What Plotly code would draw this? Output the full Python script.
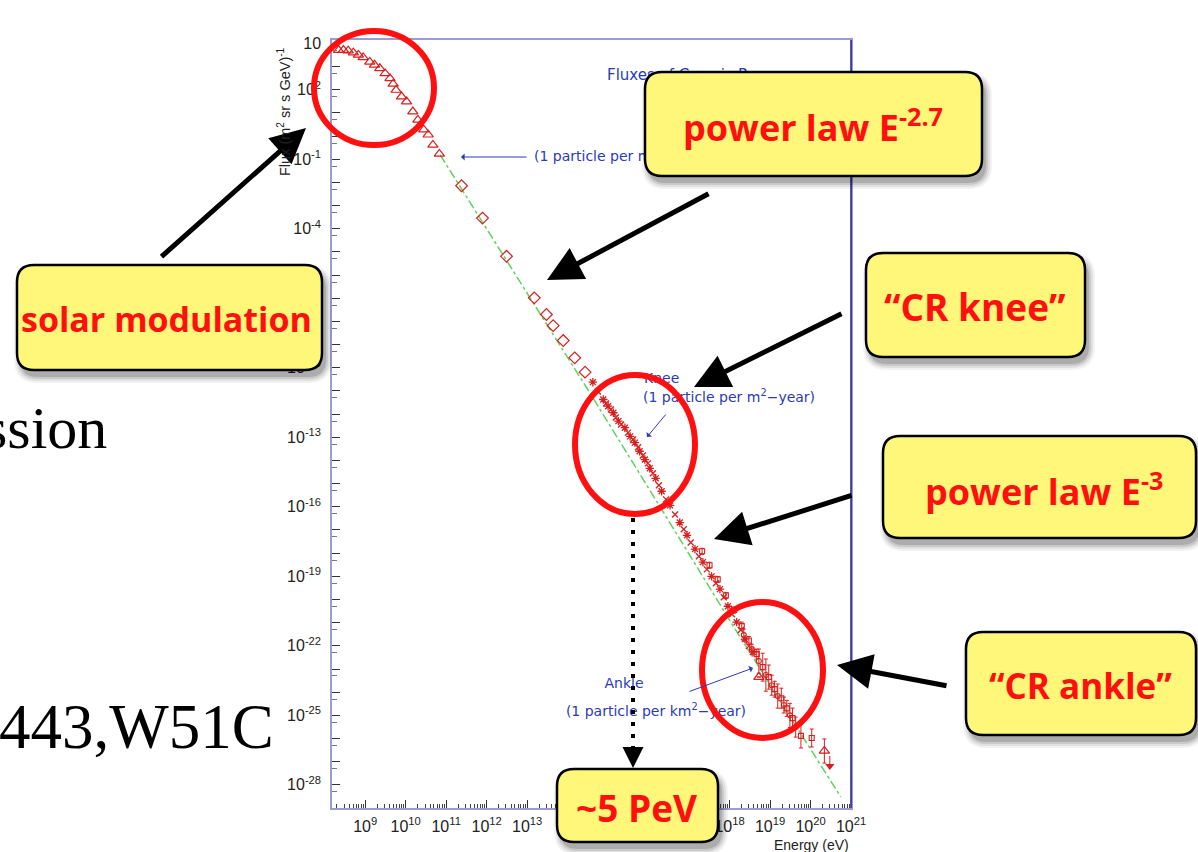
import plotly.graph_objects as go

# ---------------- data ----------------
# direct measurements (open triangles)
e_direct = [2.2e8, 2.9e8, 3.8e8, 5.1e8, 6.8e8, 8.9e8, 1.3e9, 1.7e9, 2.3e9, 3.1e9, 4.1e9,
            4.9e9, 5.8e9, 7.9e9, 1.05e10, 1.5e10, 2.0e10, 2.8e10, 3.6e10, 4.7e10, 6.8e10]
f_direct = [5.2e3, 5.2e3, 4.9e3, 4.0e3, 3.2e3, 2.5e3, 1.6e3, 1.2e3, 850, 510, 310,
            180, 98, 51, 31, 11.5, 5.0, 1.9, 1.15, 0.42, 0.17]

# balloon / satellite (open diamonds)
e_balloon = [2.4e11, 7.9e11, 3.1e12, 1.5e13, 3.0e13, 4.4e13, 7.8e13, 1.5e14, 2.7e14]
f_balloon = [7.2e-3, 2.9e-4, 6.5e-6, 1.05e-7, 2.0e-8, 6.6e-9, 1.5e-9, 2.7e-10, 6.5e-11]

# air-shower arrays around the knee (asterisks)
e_knee = [4.2e14, 7.6e14, 1.0e15, 1.35e15, 1.8e15, 2.6e15, 3.5e15, 4.6e15, 6.0e15, 8.1e15,
          1.07e16, 1.5e16, 2.1e16, 3.4e16, 5.9e16, 8.9e16, 1.4e17, 2.2e17, 3.6e17, 5.8e17,
          9.1e17, 1.5e18, 2.4e18, 3.8e18]
f_knee = [2.4e-11, 4.3e-12, 2.2e-12, 1.15e-12, 5.0e-13, 2.6e-13, 1.1e-13, 5.9e-14, 2.5e-14, 1.1e-14,
          4.6e-15, 1.7e-15, 4.7e-16, 1.15e-16, 2.1e-17, 5.9e-18, 1.5e-18, 4.1e-19, 1.0e-19, 2.8e-20,
          5.1e-21, 1.05e-21, 1.95e-22, 5.4e-23]

# a second air-shower data set around the knee (crosses)
e_knee2 = [5.6e14, 8.9e14, 1.17e15, 1.55e15, 2.1e15, 3.1e15, 4.1e15, 5.5e15, 7.2e15, 9.6e15,
           1.28e16, 1.8e16, 2.7e16, 4.5e16, 7.4e16, 1.1e17, 1.75e17, 2.75e17, 4.6e17, 7.2e17,
           1.15e18, 1.9e18, 3.0e18]
f_knee2 = [9.5e-12, 2.9e-12, 1.6e-12, 7.2e-13, 3.6e-13, 1.6e-13, 8.1e-14, 3.7e-14, 1.65e-14, 7.5e-15,
           2.8e-15, 8.5e-16, 2.1e-16, 4.7e-17, 1.07e-17, 2.9e-18, 7.4e-19, 2.0e-19, 5.0e-20, 1.25e-20,
           2.3e-21, 4.8e-22, 9.7e-23]

# highest energies with error bars (open squares)
e_uhe = [2.1e17, 3.2e17, 5.1e17, 8.1e17, 1.3e18, 2.0e18, 3.0e18, 4.7e18, 6.6e18, 9.3e18,
         1.3e19, 1.9e19, 2.6e19, 3.6e19, 5.8e19, 1.07e20]
f_uhe = [1.2e-18, 3.0e-19, 7.4e-20, 1.5e-20, 3.5e-21, 7.1e-22, 1.7e-22, 4.4e-23, 1.2e-23, 4.5e-24,
         1.35e-24, 5.5e-25, 2.0e-25, 7.6e-26, 1.3e-26, 1.05e-26]
uhe_err_up = [0.35, 0.35, 0.35, 0.35, 0.35, 0.49, 0.49, 0.64, 3.0, 2.3, 1.2, 1.7, 1.2, 1.7, 2.3, 1.44]
uhe_err_dn = [0.26, 0.26, 0.26, 0.26, 0.26, 0.33, 0.33, 0.39, 0.75, 0.70, 0.55, 0.63, 0.55, 0.63, 0.70, 0.59]

# another ultra-high-energy data set (open circles)
e_uhe2 = [2.25e18, 3.55e18, 5.3e18, 7.9e18, 1.1e19, 1.55e19, 2.2e19, 3.1e19, 4.3e19]
f_uhe2 = [2.9e-22, 7.2e-23, 2.2e-23, 5.5e-24, 2.0e-24, 6.8e-25, 2.8e-25, 1.0e-25, 3.1e-26]
uhe2_err_up = [0.82, 0.64, 2.3, 3.9, 1.7, 2.3, 1.2, 2.3, 1.7]
uhe2_err_dn = [0.45, 0.39, 0.70, 0.80, 0.63, 0.70, 0.55, 0.70, 0.63]

# extreme-energy triangles and an upper limit
e_eee = [5.3e18, 2.2e20]
f_eee = [4.5e-24, 2.9e-27]
eee_err_up = [0.0, 2.3]
eee_err_dn = [0.0, 0.70]
e_limit = [3.0e20]
f_limit = [6.5e-28]
limit_err_up = [1.7]

# power-law E^-2.7 guide line
e_power = [7.1e10, 2.95e14, 7.4e15, 1.23e18, 2.57e19, 5.6e20]
f_power = [0.155, 1.38e-11, 1.5e-15, 7.2e-22, 1.5e-25, 3.0e-29]

# tick labels (labels hidden under the call-out boxes are left blank)
x_tick_exp = list(range(9, 22))
x_hidden_exp = [14, 15, 16, 17]
y_tick_exp = list(range(-29, 5))
y_label_exp = [-28, -25, -22, -19, -16, -13, -10, -4, -1, 2]

# ---------------- geometry helpers ----------------
W, H = 1198, 852
L, R, T, B = 332, 347, 40, 44
PW, PH = W - L - R, H - T - B
XLOG = (8.18, 21.0)
YLOG = (-29.0, 4.15)


def px(x):
    return (x - L) / PW


def py(y):
    return (H - B - y) / PH


def dx(x):  # pixel -> data (for label placement)
    return 10 ** (XLOG[0] + (x - L) / PW * (XLOG[1] - XLOG[0]))


def dy(y):
    return 10 ** (YLOG[1] - (y - T) / PH * (YLOG[1] - YLOG[0]))


RED = "#d81e1e"
BLUE = "#2a3ab8"

fig = go.Figure()


def err(vals, fr):
    return [v * f for v, f in zip(vals, fr)]


fig.add_trace(go.Scatter(x=e_power, y=f_power, mode="lines",
                         line=dict(color="#5ed35e", width=1.5, dash="dashdot"),
                         hoverinfo="skip"))
fig.add_trace(go.Scatter(x=e_direct, y=f_direct, mode="markers",
                         marker=dict(symbol="triangle-up-open", size=9, color=RED,
                                     line=dict(color=RED, width=1.2))))
fig.add_trace(go.Scatter(x=e_balloon, y=f_balloon, mode="markers",
                         marker=dict(symbol="diamond-open", size=9, color=RED,
                                     line=dict(color=RED, width=1.2))))
fig.add_trace(go.Scatter(x=e_knee, y=f_knee, mode="markers",
                         marker=dict(symbol="asterisk-open", size=7, color=RED,
                                     line=dict(color=RED, width=1.3))))
fig.add_trace(go.Scatter(x=e_knee2, y=f_knee2, mode="markers",
                         marker=dict(symbol="x-thin-open", size=6, color=RED,
                                     line=dict(color=RED, width=1.3))))
fig.add_trace(go.Scatter(x=e_uhe, y=f_uhe, mode="markers",
                         marker=dict(symbol="square-open", size=5, color=RED,
                                     line=dict(color=RED, width=1.1)),
                         error_y=dict(type="data", symmetric=False,
                                      array=err(f_uhe, uhe_err_up), arrayminus=err(f_uhe, uhe_err_dn),
                                      color=RED, thickness=1, width=2)))
fig.add_trace(go.Scatter(x=e_uhe2, y=f_uhe2, mode="markers",
                         marker=dict(symbol="circle-open", size=5, color=RED,
                                     line=dict(color=RED, width=1.1)),
                         error_y=dict(type="data", symmetric=False,
                                      array=err(f_uhe2, uhe2_err_up), arrayminus=err(f_uhe2, uhe2_err_dn),
                                      color=RED, thickness=1, width=2)))
fig.add_trace(go.Scatter(x=e_eee, y=f_eee, mode="markers",
                         marker=dict(symbol="triangle-up-open", size=9, color=RED,
                                     line=dict(color=RED, width=1.2)),
                         error_y=dict(type="data", symmetric=False,
                                      array=err(f_eee, eee_err_up), arrayminus=err(f_eee, eee_err_dn),
                                      color=RED, thickness=1, width=2)))
fig.add_trace(go.Scatter(x=e_limit, y=f_limit, mode="markers",
                         marker=dict(symbol="triangle-down", size=8, color=RED),
                         error_y=dict(type="data", symmetric=False,
                                      array=err(f_limit, limit_err_up),
                                      arrayminus=[0.0], color=RED, thickness=1, width=0)))

# blue in-plot texts (as a trace so the yellow boxes can cover them)
fig.add_trace(go.Scatter(
    x=[dx(607), dx(534), dx(644), dx(643)],
    y=[dy(76), dy(157), dy(379), dy(398)],
    text=["Fluxes of Cosmic Rays", "(1 particle per m<sup>2</sup>-second)", "Knee",
          "(1 particle per m<sup>2</sup>\u2212year)"],
    mode="text", textposition="middle right",
    textfont=dict(family="DejaVu Sans", size=[15, 14, 14, 14], color=BLUE), hoverinfo="skip"))
fig.add_trace(go.Scatter(
    x=[dx(624), dx(656)], y=[dy(684), dy(712)],
    text=["Ankle", "(1 particle per km<sup>2</sup>\u2212year)"],
    mode="text", textposition="middle center",
    textfont=dict(family="DejaVu Sans", size=14, color=BLUE), hoverinfo="skip"))

tickfont = dict(family="Liberation Sans", size=16, color="#222")
fig.update_xaxes(type="log", range=list(XLOG), showline=True, linecolor="#9a9ad6", linewidth=1.5,
                 mirror=True, ticks="inside", ticklen=8, tickcolor="#333", tickwidth=1,
                 tickvals=[10.0 ** k for k in x_tick_exp],
                 ticktext=["" if k in x_hidden_exp else "10<sup>%d</sup>" % k for k in x_tick_exp],
                 tickfont=tickfont, showgrid=False, zeroline=False, ticklabelstandoff=3,
                 minor=dict(ticks="inside", ticklen=4, dtick="D1", tickcolor="#444", showgrid=False))
y_text = []
for k in y_tick_exp:
    if k in y_label_exp:
        y_text.append("10<sup>%d</sup>" % k)
    elif k == 4:
        y_text.append("10")
    else:
        y_text.append("")
fig.update_yaxes(type="log", range=list(YLOG), showline=True, linecolor="#9a9ad6", linewidth=1.5,
                 mirror=True, ticks="inside", ticklen=8, tickcolor="#333", tickwidth=1,
                 tickvals=[10.0 ** k for k in y_tick_exp], ticktext=y_text,
                 tickfont=tickfont, showgrid=False, zeroline=False, ticklabelstandoff=6,
                 minor=dict(ticks="inside", ticklen=5, tickcolor="#777", showgrid=False,
                            tickvals=[5 * 10.0 ** k for k in range(-30, 4)]))

shapes = []
# dark right frame edge
shapes.append(dict(type="line", xref="paper", yref="paper", x0=1, x1=1, y0=0, y1=1,
                   line=dict(color="#1f1f8c", width=1.5), layer="above"))


def rrect(x0, y0, x1, y1, r):
    pts = [("M", [(x0 + r, y0)]), ("L", [(x1 - r, y0)]), ("Q", [(x1, y0), (x1, y0 + r)]),
           ("L", [(x1, y1 - r)]), ("Q", [(x1, y1), (x1 - r, y1)]), ("L", [(x0 + r, y1)]),
           ("Q", [(x0, y1), (x0, y1 - r)]), ("L", [(x0, y0 + r)]), ("Q", [(x0, y0), (x0 + r, y0)])]
    s = ""
    for cmd, ps in pts:
        s += cmd + " ".join("%.5f,%.5f" % (px(a), py(b)) for a, b in ps)
    return s + "Z"


boxes = [
    (17, 265, 322, 370, "solar modulation", 166, 319, 34),
    (645, 72, 982, 176, "power law E<sup>-2.7</sup>", 813, 126, 36),
    (866, 253, 1085, 357, "\u201cCR knee\u201d", 975, 306, 37),
    (883, 436, 1196, 538, "power law E<sup>-3</sup>", 1044, 489, 36),
    (966, 632, 1196, 735, "\u201cCR ankle\u201d", 1080, 685, 35),
    (557, 769, 718, 842, "~5 PeV", 637, 807, 37),
]
for (x0, y0, x1, y1, _, _, _, _) in boxes:
    for grow, alpha in [(6, 0.05), (4, 0.07), (2, 0.10), (0, 0.14)]:
        shapes.append(dict(type="path", xref="paper", yref="paper", layer="above",
                           path=rrect(x0 + 3 - grow, y0 + 6 - grow, x1 + 4 + grow, y1 + 7 + grow, 18 + grow),
                           fillcolor="rgba(0,0,0,%.2f)" % alpha, line=dict(width=0)))
    shapes.append(dict(type="path", xref="paper", yref="paper", layer="above",
                       path=rrect(x0, y0, x1, y1, 17), fillcolor="#fff779",
                       line=dict(color="black", width=2.5)))

# red circles
for (x0, y0, x1, y1) in [(314, 31, 434, 145), (575, 375, 695, 514), (702, 602, 823, 738)]:
    shapes.append(dict(type="circle", xref="paper", yref="paper", layer="above",
                       x0=px(x0), x1=px(x1), y0=py(y1), y1=py(y0),
                       line=dict(color="#ff1010", width=6)))

# dotted vertical line down to ~5 PeV
shapes.append(dict(type="line", xref="paper", yref="paper", layer="above",
                   x0=px(633), x1=px(633), y0=py(518), y1=py(756),
                   line=dict(color="black", width=4, dash="4px,8px")))

annotations = []
for (_, _, _, _, txt, cx, cy, fs) in boxes:
    annotations.append(dict(text=txt, x=px(cx), y=py(cy), xref="paper", yref="paper",
                            showarrow=False, xanchor="center", yanchor="middle",
                            font=dict(family="Open Sans", size=fs, color="#ff1010", weight=700)))

# black arrows (tip, tail)
for (tx, ty, sx, sy) in [(306, 128, 160, 258), (547, 280, 710, 193), (694, 387, 843, 313),
                         (714, 539, 853, 495), (837, 665, 948, 686)]:
    annotations.append(dict(text="", x=px(tx), y=py(ty), xref="paper", yref="paper",
                            ax=sx - tx, ay=sy - ty, showarrow=True, arrowhead=2,
                            arrowsize=1.4, arrowwidth=5, arrowcolor="black"))
annotations.append(dict(text="", x=px(633), y=py(768), xref="paper", yref="paper",
                        ax=0, ay=-14, showarrow=True, arrowhead=2, arrowsize=1.4,
                        arrowwidth=3, arrowcolor="black"))
# blue arrows
for (tx, ty, sx, sy) in [(461, 157, 528, 157), (647, 437, 667, 413), (753, 668, 688, 692)]:
    annotations.append(dict(text="", x=px(tx), y=py(ty), xref="paper", yref="paper",
                            ax=sx - tx, ay=sy - ty, showarrow=True, arrowhead=1,
                            arrowsize=1.2, arrowwidth=1, arrowcolor=BLUE))

# axis titles
annotations.append(dict(text="Flux (m<sup>2</sup> sr s GeV)<sup>-1</sup>", x=px(284), y=py(112),
                        xref="paper", yref="paper", showarrow=False, textangle=-90,
                        font=dict(family="Liberation Sans", size=14.5, color="#222"),
                        xanchor="center", yanchor="middle"))
annotations.append(dict(text="Energy (eV)", x=px(851), y=py(845), xref="paper", yref="paper",
                        showarrow=False, font=dict(family="Liberation Sans", size=14, color="#222"),
                        xanchor="right", yanchor="middle"))

# background slide text
annotations.append(dict(text="ssion", x=px(109), y=py(428), xref="paper", yref="paper",
                        showarrow=False, font=dict(family="Liberation Serif", size=60, color="black"),
                        xanchor="right", yanchor="middle"))
annotations.append(dict(text="443,W51C", x=px(276), y=py(727), xref="paper", yref="paper",
                        showarrow=False, font=dict(family="Liberation Serif", size=63, color="black"),
                        xanchor="right", yanchor="middle"))

fig.update_layout(width=W, height=H, margin=dict(l=L, r=R, t=T, b=B),
                  paper_bgcolor="white", plot_bgcolor="white", showlegend=False,
                  shapes=shapes, annotations=annotations)

fig.write_html("out.html")
